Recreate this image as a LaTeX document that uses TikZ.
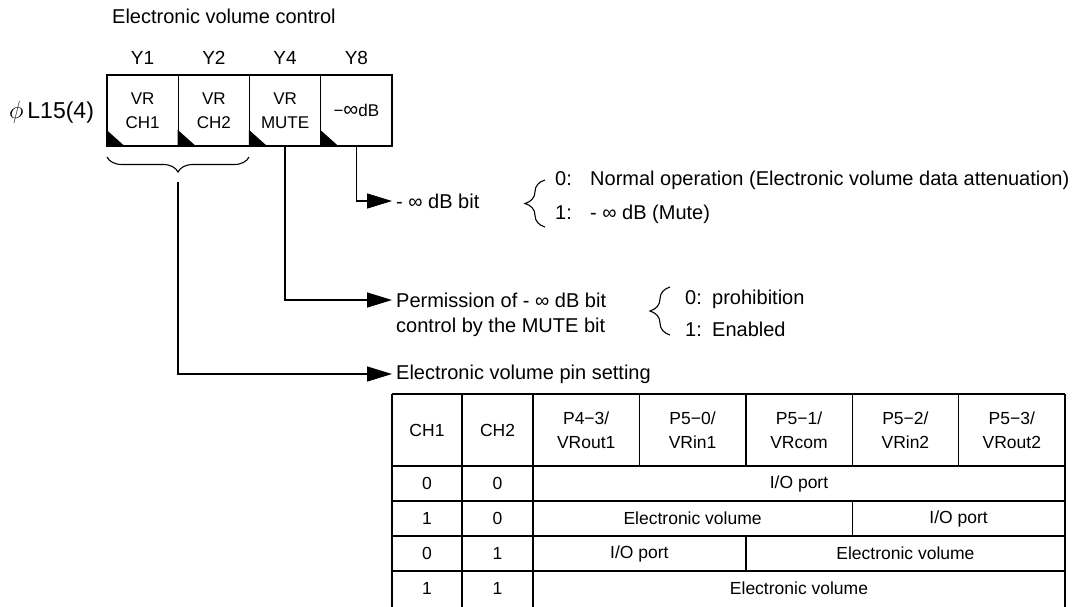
\documentclass[tikz,border=0pt]{standalone}
\usepackage{fontspec}
\setmainfont{Liberation Sans}
\usepackage{tikz}
\usetikzlibrary{arrows.meta,decorations.pathreplacing}

\begin{document}
\begin{tikzpicture}[x=1pt,y=-1pt]
	\tikzset{cell/.style={rectangle, draw=black, line width=1.4pt, minimum width=71.25pt, minimum height=71pt, inner sep=0pt, align=center, font=\fontsize{17}{24}\selectfont}}
	\tikzset{ylbl/.style={inner sep=0pt, font=\fontsize{19}{22}\selectfont}}
	\tikzset{lbl/.style={inner sep=0pt, anchor=west, font=\fontsize{20}{28}\selectfont}}
	\tikzset{tab/.style={inner sep=0pt, align=center, font=\fontsize{17.5}{24}\selectfont}}
	\tikzset{conn/.style={line width=1.3pt, -{Triangle[length=25pt,width=15pt]}, shorten >=4pt}}
	\tikzset{brc/.style={decorate, line width=1.1pt}}
	\tikzset{rule/.style={line width=1.4pt}}

	\useasboundingbox (0,0) rectangle (1074,606);

	%---NODES---
	\node[lbl] (title) at (112,16) {Electronic volume control};
	\node[lbl, font=\fontsize{23}{28}\selectfont] (reg) at (9,112) {$\phi$\,L15(4)};

	\node[cell] (1) at (142.6,110.5) {VR\\CH1};
	\node[cell] (2) at (213.9,110.5) {VR\\CH2};
	\node[cell] (4) at (285.1,110.5) {VR\\MUTE};
	\node[cell] (8) at (356.4,110.5) {−{\fontsize{21}{24}\selectfont∞}dB};

	\node[ylbl] (y1) at (142.6,58) {Y1};
	\node[ylbl] (y2) at (213.9,58) {Y2};
	\node[ylbl] (y4) at (285.1,58) {Y4};
	\node[ylbl] (y8) at (356.4,58) {Y8};

	\foreach \c in {1,2,4,8}
		\fill (\c.south west) -- ++(0,-17) -- ++(19,17) -- cycle;

	\coordinate (tip) at (178,182);

	\node[lbl] (dbbit) at (396,201) {- ∞ dB bit};
	\node[lbl] (off0) at (555,180) {\makebox[35pt][l]{0:}Normal operation (Electronic volume data attenuation)};
	\node[lbl] (off1) at (555,214) {\makebox[35pt][l]{1:}- ∞ dB (Mute)};

	\node[lbl] (perm1) at (396,300) {Permission of - ∞ dB bit};
	\node[lbl] (perm2) at (396,327) {control by the MUTE bit};
	\node[lbl] (en0) at (685,299) {\makebox[27pt][l]{0:}prohibition};
	\node[lbl] (en1) at (685,329) {\makebox[27pt][l]{1:}Enabled};

	\node[lbl] (pinset) at (396,374) {Electronic volume pin setting};

	%---BRACES---
	\draw[brc, decoration={brace, mirror, amplitude=15pt}] (107,157) -- (249,157);
	\draw[brc, decoration={brace, amplitude=20pt}] (545,227) -- (545,180);
	\draw[brc, decoration={brace, amplitude=20pt}] (670,335) -- (670,287);

	%---EDGES---
	\draw[conn] (8.south) |- (dbbit.west);
	\draw[conn] (4.south) |- (perm1.west);
	\draw[conn] (tip) |- (pinset.west);

	%---TABLE---
	\foreach \x in {392,462,533,1065}
		\draw[rule] (\x,394) -- (\x,610);
	\foreach \y in {394,466,501,536,571}
		\draw[rule] (392,\y) -- (1065,\y);
	\foreach \x in {639.4,745.8,852.2,958.6}
		\draw[rule] (\x,394) -- (\x,466);
	\draw[rule] (852.2,501) -- (852.2,536);
	\draw[rule] (745.8,536) -- (745.8,571);

	\node[tab] (hch1) at (427,430) {CH1};
	\node[tab] (hch2) at (497.5,430) {CH2};
	\node[tab] (p43) at (586.2,430) {P4−3/\\VRout1};
	\node[tab] (p50) at (692.6,430) {P5−0/\\VRin1};
	\node[tab] (p51) at (799,430) {P5−1/\\VRcom};
	\node[tab] (p52) at (905.4,430) {P5−2/\\VRin2};
	\node[tab] (p53) at (1011.8,430) {P5−3/\\VRout2};

	\node[tab] (a1) at (427,483.5) {0};
	\node[tab] (a2) at (497.5,483.5) {0};
	\node[tab] (a3) at (799,483.5) {I/O port};

	\node[tab] (b1) at (427,518.5) {1};
	\node[tab] (b2) at (497.5,518.5) {0};
	\node[tab] (b3) at (692.6,518.5) {Electronic volume};
	\node[tab] (b4) at (958.6,518.5) {I/O port};

	\node[tab] (c1) at (427,553.5) {0};
	\node[tab] (c2) at (497.5,553.5) {1};
	\node[tab] (c3) at (639.4,553.5) {I/O port};
	\node[tab] (c4) at (905.4,553.5) {Electronic volume};

	\node[tab] (d1) at (427,588.5) {1};
	\node[tab] (d2) at (497.5,588.5) {1};
	\node[tab] (d3) at (799,588.5) {Electronic volume};

\end{tikzpicture}
\end{document}
